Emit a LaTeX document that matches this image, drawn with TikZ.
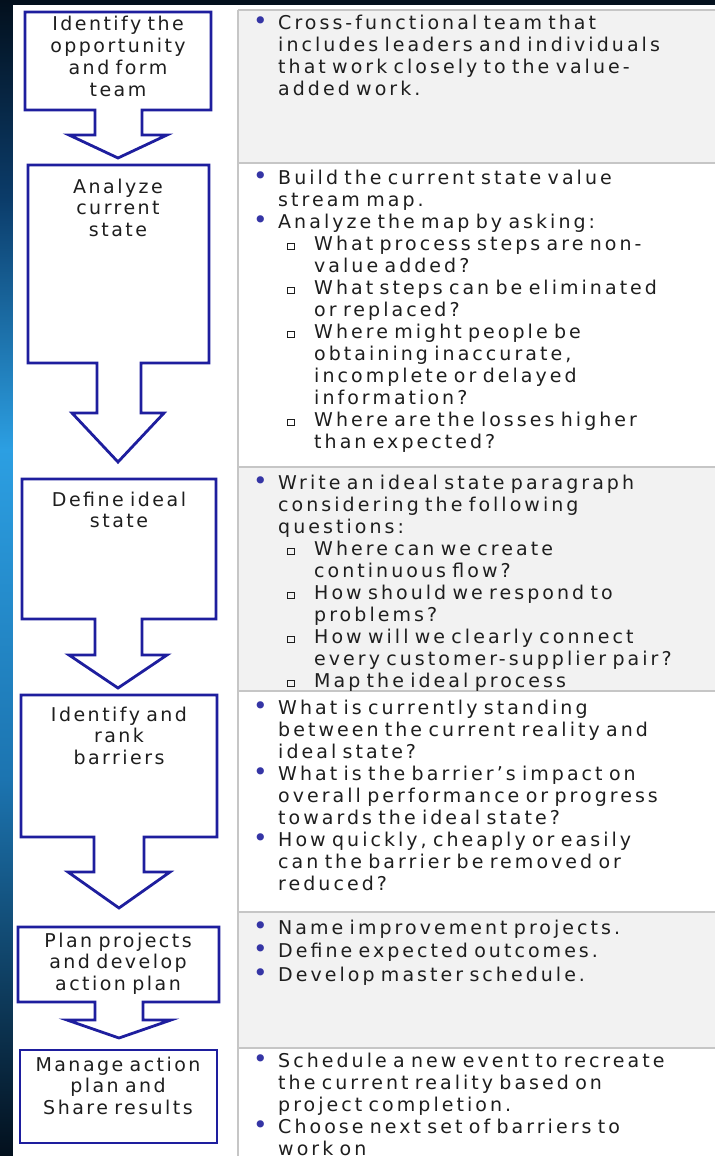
\documentclass[tikz,border=0pt]{standalone}
\usepackage{fontspec}
\setmainfont{DejaVu Sans}
\newfontfamily\stepfont[LetterSpace=13,WordSpace=1.6]{DejaVu Sans}
\newfontfamily\cellfont[LetterSpace=16,WordSpace=1.6]{DejaVu Sans}
\usetikzlibrary{positioning}
\setlength\parskip{0pt}
\setlength\parindent{0pt}

\definecolor{navyline}{HTML}{1E1E9E}
\definecolor{dotblue}{HTML}{3535A5}
\definecolor{cellgrey}{HTML}{F2F2F2}
\definecolor{ruleg}{HTML}{C6C6C6}
\definecolor{inkgrey}{HTML}{1E1E1E}
\definecolor{nightblue}{HTML}{03101D}
\definecolor{deepblue}{HTML}{0B3C6A}
\definecolor{skyblue}{HTML}{2C9FE2}
\definecolor{seablue}{HTML}{1C74B0}

% line break that keeps the hanging indent
\newcommand\nl{\unskip\hfil\break}
% bullet item and hollow-square sub item
\newcommand\bul[1]{\noindent\hangindent=32pt\hangafter=1\hbox to 32pt{\hskip 7pt\textcolor{dotblue}{\scalebox{1.3}{•}}\hfil}#1\par}
\newcommand\subb[1]{\noindent\hangindent=68pt\hangafter=1\hbox to 68pt{\hskip 41pt\raisebox{1.5pt}{\fboxsep0pt\fboxrule1.1pt\fbox{\rule{0pt}{4.6pt}\rule{6pt}{0pt}}}\hfil}#1\par}

\begin{document}
\begin{tikzpicture}[x=1pt,y=-1pt,
	flow/.style={draw=navyline,line width=2.8pt,fill=white,line join=miter},
	steplabel/.style={font=\stepfont\fontsize{19}{21.8}\selectfont,text=inkgrey,
		text width=196pt,align=center,anchor=base,inner sep=0pt},
	celltext/.style={font=\cellfont\fontsize{19}{22}\selectfont,text=inkgrey,
		text width=466pt,align=left,anchor=base west,inner sep=0pt},
	cellrule/.style={ruleg,line width=2pt}]
	\useasboundingbox (0,0) rectangle (715,1156);
	% background
	\fill[nightblue] (0,0) rectangle (715,5);
	\shade[top color=nightblue,bottom color=deepblue] (0,0) rectangle (13,200);
	\shade[top color=deepblue,bottom color=skyblue] (0,199) rectangle (13,450);
	\shade[top color=skyblue,bottom color=seablue] (0,449) rectangle (13,780);
	\shade[top color=seablue,bottom color=nightblue] (0,779) rectangle (13,1156);
	\fill[white] (13,5) rectangle (715,1156);
	% table cells
	\fill[cellgrey] (238,10) rectangle (715,163);
	\fill[cellgrey] (238,467) rectangle (715,691);
	\fill[cellgrey] (238,912) rectangle (715,1048);
	\foreach \y in {10,163,467,691,912,1048}
		\draw[cellrule] (238,\y) -- (715,\y);
	\draw[cellrule] (238,10) -- (238,1156);

	% step arrows
	\draw[flow] (25,12) -- (211,12) -- (211,110) -- (142,110) -- (142,135) -- (167,135) -- (118,158)
		-- (69,135) -- (95,135) -- (95,110) -- (25,110) -- cycle;
	\draw[flow] (28,165) -- (209,165) -- (209,363) -- (141,363) -- (141,413) -- (164,413) -- (118,462)
		-- (72,413) -- (97,413) -- (97,363) -- (28,363) -- cycle;
	\draw[flow] (22,479) -- (216,479) -- (216,619) -- (142,619) -- (142,655) -- (167,655) -- (118,688)
		-- (69,655) -- (95,655) -- (95,619) -- (22,619) -- cycle;
	\draw[flow] (21,695) -- (217,695) -- (217,837) -- (144,837) -- (144,872) -- (170,872) -- (119,908)
		-- (68,872) -- (94,872) -- (94,837) -- (21,837) -- cycle;
	\draw[flow] (18,927) -- (219,927) -- (219,1002) -- (143,1002) -- (143,1020) -- (171,1020) -- (119,1038)
		-- (67,1020) -- (95,1020) -- (95,1002) -- (18,1002) -- cycle;
	\draw[flow] (20,1050) rectangle (217,1143);

	% step names
	\node[steplabel] (s1) at (118,31) {Identify the\\opportunity\\and form\\team};
	\node[steplabel] (s2) at (118,193) {Analyze\\current\\state};
	\node[steplabel] (s3) at (119,506) {Define ideal\\state};
	\node[steplabel] (s4) at (119,721) {Identify and\\rank\\barriers};
	\node[steplabel] (s5) at (118,947) {Plan projects\\and develop\\action plan};
	\node[steplabel] (s6) at (118,1071) {Manage action\\plan and\\Share results};

	% what to do in each step
	\node[celltext] (c1) at (246,30) {%
		\bul{Cross-functional team that\nl includes leaders and individuals\nl that work closely to the value-\nl added work.}};
	\node[celltext] (c2) at (246,184) {%
		\bul{Build the current state value\nl stream map.}
		\bul{Analyze the map by asking:}
		\subb{What process steps are non-\nl value added?}
		\subb{What steps can be eliminated\nl or replaced?}
		\subb{Where might people be\nl obtaining inaccurate,\nl incomplete or delayed\nl information?}
		\subb{Where are the losses higher\nl than expected?}};
	\node[celltext] (c3) at (246,489) {%
		\bul{Write an ideal state paragraph\nl considering the following\nl questions:}
		\subb{Where can we create\nl continuous flow?}
		\subb{How should we respond to\nl problems?}
		\subb{How will we clearly connect\nl every customer-supplier pair?}
		\subb{Map the ideal process}};
	\node[celltext] (c4) at (246,714) {%
		\bul{What is currently standing\nl between the current reality and\nl ideal state?}
		\bul{What is the barrier’s impact on\nl overall performance or progress\nl towards the ideal state?}
		\bul{How quickly, cheaply or easily\nl can the barrier be removed or\nl reduced?}};
	\node[celltext,font=\cellfont\fontsize{19}{23.8}\selectfont] (c5) at (246,934) {%
		\bul{Name improvement projects.}
		\bul{Define expected outcomes.}
		\bul{Develop master schedule.}};
	\node[celltext] (c6) at (246,1067) {%
		\bul{Schedule a new event to recreate\nl the current reality based on\nl project completion.}
		\bul{Choose next set of barriers to\nl work on}};
\end{tikzpicture}
\end{document}
